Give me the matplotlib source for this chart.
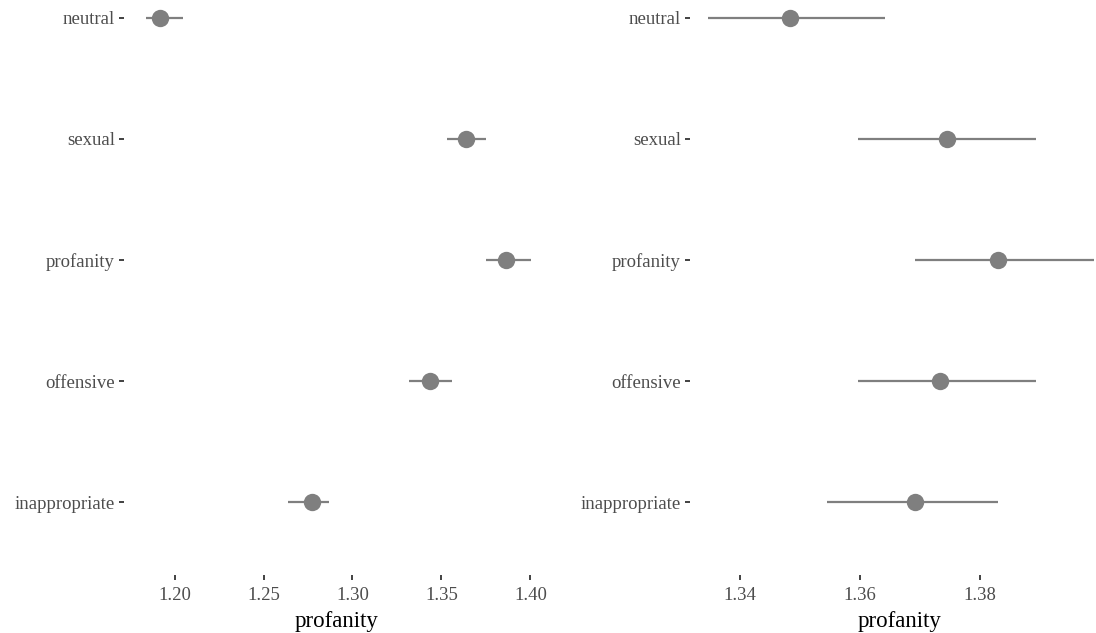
import matplotlib
matplotlib.use("Agg")
import matplotlib.pyplot as plt

plt.rcParams["font.family"] = ["Liberation Serif", "DejaVu Serif"]

categories = ["inappropriate", "offensive", "profanity", "sexual", "neutral"]

# left panel
left_est = [1.2775, 1.3438, 1.3865, 1.3640, 1.1920]
left_lo = [1.2640, 1.3320, 1.3750, 1.3530, 1.1840]
left_hi = [1.2870, 1.3560, 1.4006, 1.3750, 1.2045]
left_ticks = [1.20, 1.25, 1.30, 1.35, 1.40]

# right panel
right_est = [1.3692, 1.3733, 1.3830, 1.3745, 1.3483]
right_lo = [1.3545, 1.3597, 1.3692, 1.3597, 1.3347]
right_hi = [1.3830, 1.3893, 1.3990, 1.3893, 1.3642]
right_ticks = [1.34, 1.36, 1.38]

W, H = 1096, 633
fig = plt.figure(figsize=(W / 100, H / 100), dpi=100)

col = "#7f7f7f"


def panel(rect, est, lo, hi, ticks, xlim):
    ax = fig.add_axes(rect)
    y = list(range(1, len(categories) + 1))
    for yi, e, l, h in zip(y, est, lo, hi):
        ax.plot([l, h], [yi, yi], color=col, lw=1.6, solid_capstyle="butt", zorder=2)
        ax.plot([e], [yi], "o", color=col, ms=12.5, mec="none", zorder=3)
    ax.set_ylim(0.4, 5.6)
    ax.set_xlim(*xlim)
    ax.set_yticks(y)
    ax.set_yticklabels(categories)
    ax.set_xticks(ticks)
    ax.set_xticklabels(["%.2f" % t for t in ticks])
    for s in ax.spines.values():
        s.set_visible(False)
    ax.tick_params(axis="both", length=3.5, width=1.3, color="#333333",
                   labelcolor="#4d4d4d", labelsize=13.5)
    ax.tick_params(axis="x", pad=5)
    ax.tick_params(axis="y", pad=3)
    ax.set_xlabel("profanity", fontsize=16.5, color="black", labelpad=5)
    ax.set_facecolor("white")
    return ax


bottom = 1 - 575 / H
height = (575 + 55) / H
panel([124 / W, bottom, 426 / W, height], left_est, left_lo, left_hi, left_ticks,
      (1.1716, 1.4110))
panel([690 / W, bottom, 420 / W, height], right_est, right_lo, right_hi, right_ticks,
      (1.3317, 1.4017))

fig.savefig("out.png", dpi=100)
